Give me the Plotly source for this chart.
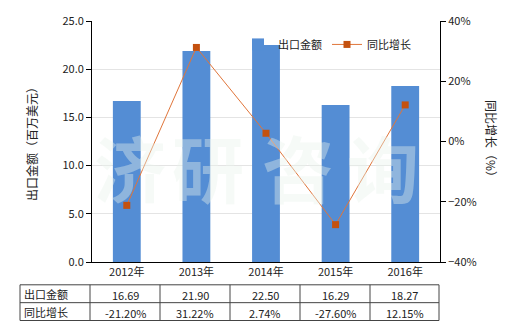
import plotly.graph_objects as go

years = ["2012年", "2013年", "2014年", "2015年", "2016年"]
export_values = [16.69, 21.90, 22.50, 16.29, 18.27]
growth_pct = [-21.20, 31.22, 2.74, -27.60, 12.15]
row_labels = ["出口金额", "同比增长"]
left_title = "出口金额（百万美元）"
right_title = "同比增长（%）"
watermark = "济研咨询"

FONT = "Noto Sans CJK SC, Microsoft YaHei, sans-serif"
W, H = 520, 330
L, R, T, B = 92, 80, 19, 68
PW, PH = W - L - R, H - T - B


def px(x):
    return (x - L) / PW


def py(y):
    return (H - B - y) / PH


fig = go.Figure()
fig.add_trace(go.Bar(x=years, y=export_values, name="出口金额",
                     marker=dict(color="#548DD4", line=dict(width=0)),
                     width=0.4, yaxis="y"))
fig.add_trace(go.Scatter(x=years, y=growth_pct, name="同比增长", mode="lines+markers",
                         line=dict(color="#E0753A", width=1),
                         marker=dict(symbol="square", size=7, color="#C4510F"),
                         yaxis="y2"))

fig.update_layout(
    width=W, height=H,
    margin=dict(l=L, r=R, t=T, b=B),
    paper_bgcolor="white", plot_bgcolor="white",
    font=dict(family=FONT, size=11, color="#222"),
    showlegend=True,
    legend=dict(orientation="h", x=px(238), y=py(28), xanchor="left", yanchor="top",
                bgcolor="rgba(0,0,0,0)", font=dict(size=11), itemwidth=30,
                tracegroupgap=0),
    bargap=0.6,
    xaxis=dict(showline=True, linecolor="#000", linewidth=1, ticks="",
               tickfont=dict(size=11), showgrid=False, zeroline=False),
    yaxis=dict(range=[0, 25], dtick=5, tickformat=".1f", showline=True, linecolor="#000",
               linewidth=1, ticks="outside", ticklen=5, tickcolor="#000",
               gridcolor="#E4E4E4", zeroline=False, tickfont=dict(size=11)),
    yaxis2=dict(range=[-40, 40], dtick=20, ticksuffix="%", overlaying="y", side="right",
                showline=True, linecolor="#000", linewidth=1, ticks="outside", ticklen=5,
                tickcolor="#000", showgrid=False, zeroline=False, tickfont=dict(size=11)),
)

annotations = []
# axis titles
annotations.append(dict(text=left_title, x=px(31), y=py(140), xref="paper", yref="paper",
                        xanchor="center", yanchor="middle",
                        textangle=-90, showarrow=False, font=dict(size=12)))
annotations.append(dict(text=right_title, x=px(492), y=py(140), xref="paper", yref="paper",
                        xanchor="center", yanchor="middle",
                        textangle=90, showarrow=False, font=dict(size=12)))
# watermark, one character per block
wm_centers = [130, 208, 298, 383]
for ch, xc in zip(watermark, wm_centers):
    annotations.append(dict(text=f"<b>{ch}</b>", x=px(xc), y=py(165), xref="paper", yref="paper",
                            xanchor="center", yanchor="middle", showarrow=False,
                            font=dict(size=72, color="rgba(232,242,236,0.4)")))

# table
col_edges = [20, 90, 160, 230, 300, 370, 439]
row_edges = [285, 303, 321]
shapes = []
for yy in row_edges:
    shapes.append(dict(type="line", xref="paper", yref="paper", x0=px(col_edges[0]),
                       x1=px(col_edges[-1]), y0=py(yy), y1=py(yy),
                       line=dict(color="#444", width=1)))
for xx in col_edges:
    shapes.append(dict(type="line", xref="paper", yref="paper", x0=px(xx), x1=px(xx),
                       y0=py(row_edges[0]), y1=py(row_edges[-1]),
                       line=dict(color="#444", width=1)))

row_texts = [[f"{v:.2f}" for v in export_values], [f"{v:.2f}%" for v in growth_pct]]
for r, label in enumerate(row_labels):
    yc = (row_edges[r] + row_edges[r + 1]) / 2
    annotations.append(dict(text=label, x=px(22), y=py(yc), xref="paper", yref="paper",
                            xanchor="left", yanchor="middle", showarrow=False,
                            font=dict(size=11)))
    for c, t in enumerate(row_texts[r]):
        xc = (col_edges[c + 1] + col_edges[c + 2]) / 2
        annotations.append(dict(text=t, x=px(xc), y=py(yc + 1), xref="paper", yref="paper",
                                xanchor="center", yanchor="middle", showarrow=False,
                                font=dict(size=11)))

fig.update_layout(annotations=annotations, shapes=shapes)
fig.write_html("out.html")
